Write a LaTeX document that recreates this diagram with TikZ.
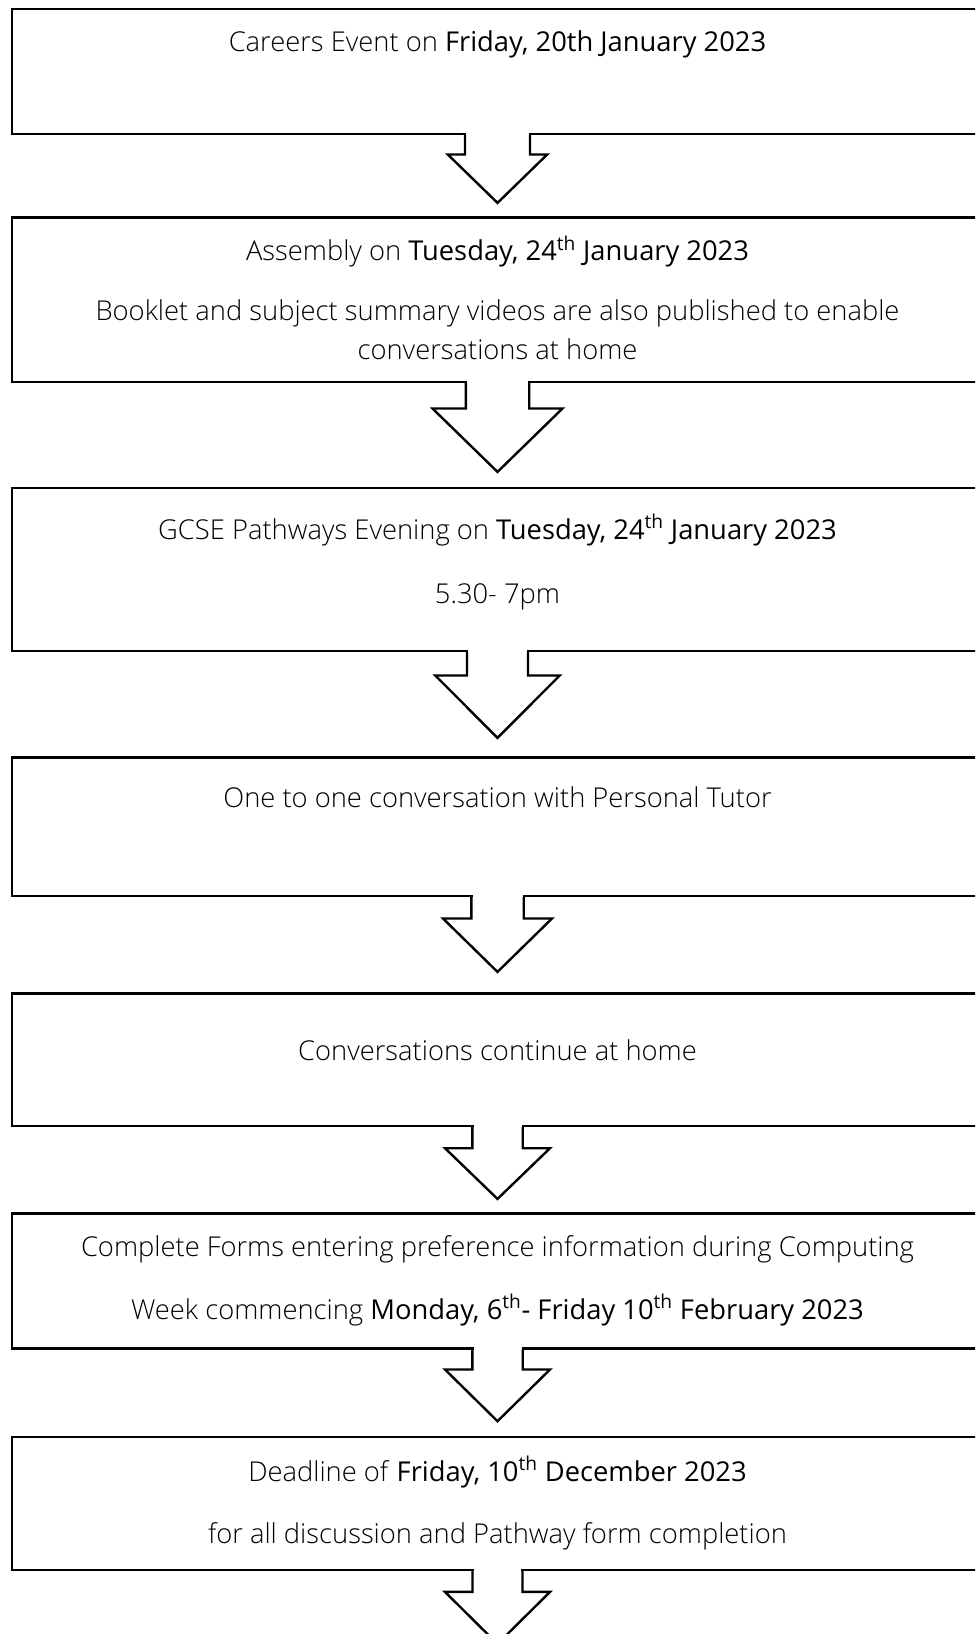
\documentclass[tikz,border=0pt]{standalone}
\usepackage{fontspec}
\setmainfont{Open Sans Light}[BoldFont={Open Sans}]
\usetikzlibrary{calc,fit}
\tikzset{
  box/.style={draw, line width=1.8pt, inner sep=0pt},
  txt/.style={anchor=base, inner sep=0pt, font=\fontsize{20.5}{24}\selectfont},
  arrowline/.style={line width=1.8pt, line join=miter},
}
% #1 box name, #2 shaft half width, #3 head half width, #4 shaft length, #5 head length
\newcommand\blkarrow[5]{%
  \coordinate (atop) at (#1.south west -| cx);
  \fill[white] ($(atop)+(-#2+1.2,-2.5)$) rectangle ($(atop)+(#2-1.2,2.5)$);
  \draw[arrowline] ($(atop)+(-#2,0)$) -- ($(atop)+(-#2,#4)$) -- ($(atop)+(-#3,#4)$)
     -- ($(atop)+(0,#4+#5)$) -- ($(atop)+(#3,#4)$) -- ($(atop)+(#2,#4)$) -- ($(atop)+(#2,0)$);
}
\begin{document}
\begin{tikzpicture}[x=0.75pt,y=-0.75pt]
\useasboundingbox (0,0) rectangle (975,1634);
\clip (0,0) rectangle (975,1634);
\coordinate (cx) at (497.5,0);

% boxes
\node[box, fit={(12,9) (1000,134)}] (b1) {};
\node[box, fit={(12,217.3) (1000,382)}] (b2) {};
\node[box, fit={(12,488) (1000,650.7)}] (b3) {};
\node[box, fit={(12,757.3) (1000,896)}] (b4) {};
\node[box, fit={(12,993.3) (1000,1126)}] (b5) {};
\node[box, fit={(12,1213.3) (1000,1348.3)}] (b6) {};
\node[box, fit={(12,1436.7) (1000,1569.7)}] (b7) {};

% texts
\node[txt] (t1) at (497.5,52) {Careers Event on \textbf{Friday, 20th January 2023}};
\node[txt] (t2a) at (497.5,260.7) {Assembly on \textbf{Tuesday, 24\textsuperscript{th} January 2023}};
\node[txt] (t2b) at (497.5,320) {Booklet and subject summary videos are also published to enable};
\node[txt] (t2c) at (497.5,359) {conversations at home};
\node[txt] (t3a) at (497.5,539) {GCSE Pathways Evening on \textbf{Tuesday, 24\textsuperscript{th} January 2023}};
\node[txt] (t3b) at (497.5,603) {5.30- 7pm};
\node[txt] (t4) at (497.5,807) {One to one conversation with Personal Tutor};
\node[txt] (t5) at (497.5,1060) {Conversations continue at home};
\node[txt] (t6a) at (497.5,1256) {Complete Forms entering preference information during Computing};
\node[txt] (t6b) at (497.5,1319) {Week commencing \textbf{Monday, 6\textsuperscript{th}- Friday 10\textsuperscript{th} February 2023}};
\node[txt] (t7a) at (497.5,1481) {Deadline of \textbf{Friday, 10\textsuperscript{th} December 2023}};
\node[txt] (t7b) at (497.5,1543) {for all discussion and Pathway form completion};

% block arrows
\blkarrow{b1}{32.5}{49.7}{19.3}{48.4}
\blkarrow{b2}{31.7}{65}{25.3}{63.4}
\blkarrow{b3}{30.5}{62.2}{23.6}{62.4}
\blkarrow{b4}{26.2}{54.5}{21.3}{53.4}
\blkarrow{b5}{25.2}{52.5}{21}{50.7}
\blkarrow{b6}{25.2}{52.5}{20}{51.7}
\blkarrow{b7}{25}{52.5}{21}{52}
\end{tikzpicture}
\end{document}
